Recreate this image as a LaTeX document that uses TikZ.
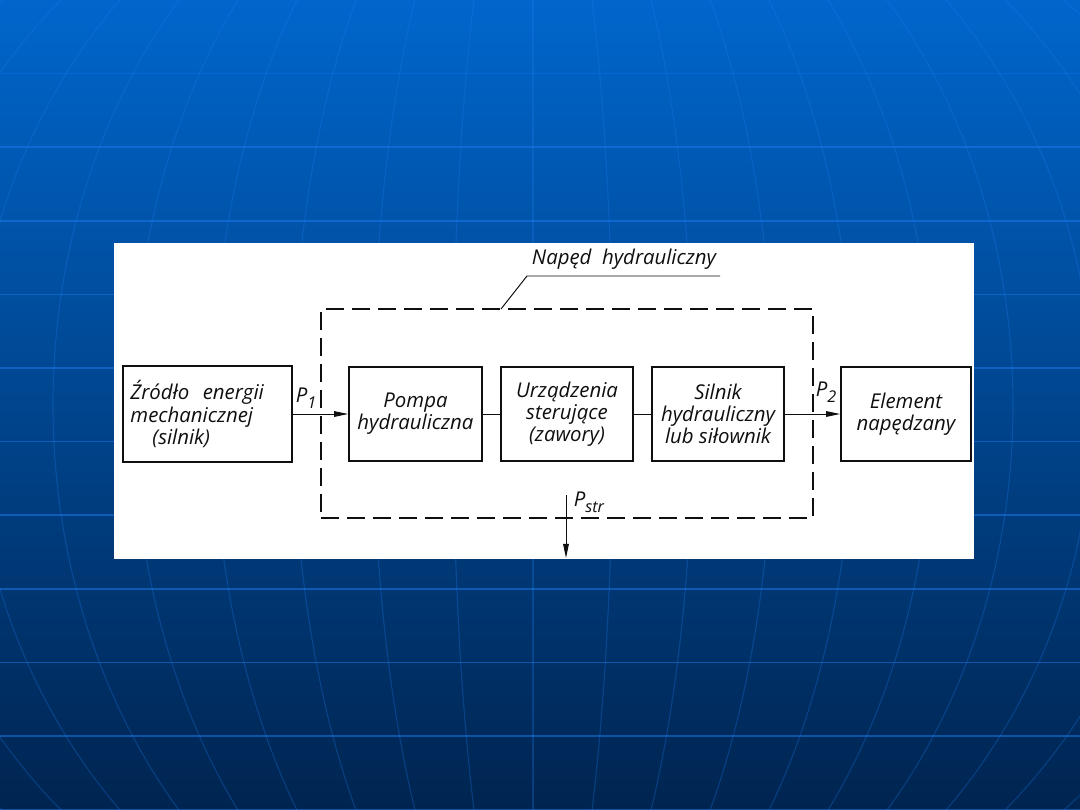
\documentclass[tikz,border=0pt]{standalone}
\usepackage{fontspec}
\setmainfont{Open Sans}
\usepackage{tikz}
\usetikzlibrary{arrows.meta, calc}
\definecolor{bgtop}{RGB}{0, 102, 204}
\definecolor{bgmid}{RGB}{0, 78, 158}
\definecolor{bgbottom}{RGB}{0, 36, 80}
\definecolor{gridline}{RGB}{30, 125, 240}
\definecolor{inkblack}{RGB}{15, 15, 15}
\newcommand{\lowsub}[1]{\raisebox{-0.55ex}{\fontsize{11.5}{12}\selectfont #1}}

\tikzset{
  blok/.style={draw=inkblack, line width=1.3pt, align=center, inner sep=1pt, text=inkblack,
    minimum width=3.3cm, minimum height=2.35cm, font=\itshape\fontsize{14.5}{15.8}\selectfont},
  conn/.style={draw=inkblack, line width=0.7pt},
  flowtip/.style={-{Triangle[length=10pt,width=4pt]}},
  plabel/.style={font=\itshape\fontsize{14.5}{16}\selectfont, text=inkblack, inner sep=0pt}
}

\begin{document}
\begin{tikzpicture}[x=0.025cm, y=-0.025cm]
                \useasboundingbox (0,0) rectangle (1080,810);
                % Background with globe grid
                \begin{scope}
                  \clip (0,0) rectangle (1080,810);
                  \shade[top color=bgtop, middle color=bgmid, bottom color=bgbottom] (0,0) rectangle (1080,810);
                  \draw[gridline, opacity=0.3, line width=1pt] (0,73.6) -- (1080,73.6);
                  \foreach \yy in {147.2,220.8,...,810}
                    \draw[gridline, opacity=0.5, line width=1.2pt] (0,\yy) -- (1080,\yy);
                  \foreach \i in {-9,...,9}
                    \draw[gridline, opacity=0.28, line width=0.8pt] plot[variable=\t, domain=-10:820, samples=40, smooth]
                      ({533+\i*80*sqrt(1-((\t-405)/600)*((\t-405)/600))}, {\t});
                \end{scope}
                \fill[white] (114,243) rectangle (974,559);

                % Dashed frame
                \node[draw=inkblack, line width=0.9pt, dash pattern=on 12.5pt off 6pt, inner sep=0pt,
                  minimum width=12.3cm, minimum height=5.225cm] (naped) at (567,413.5) {};

                % Blocks
                \node[blok, align=left, text width=3.85cm, minimum width=4.22cm, minimum height=2.4cm] (zrodlo) at (207.5,414)
                  {Źródło~ energii\\mechanicznej\\\hspace*{0.55cm}(silnik)};
                \node[blok, minimum width=3.32cm] (pompa) at (415.5,414) {Pompa\\hydrauliczna};
                \node[blok] (zawory) at (567,414) {Urządzenia\\sterujące\\(zawory)};
                \node[blok] (silnik) at (718,414) {Silnik\\hydrauliczny\\lub siłownik};
                \node[blok, minimum width=3.25cm] (element) at (906,414) {Element\\napędzany};

                % Connectors
                \draw[conn, flowtip] (zrodlo.east) -- (pompa.west);
                \draw[conn] (pompa.east) -- (zawory.west);
                \draw[conn] (zawory.east) -- (silnik.west);
                \draw[conn, flowtip] (silnik.east) -- (element.west);

                % Power labels
                \node[plabel] (p1) at (306,398) {P\lowsub{1}};
                \node[plabel] (p2) at (826,392) {P\lowsub{2}};
                \node[plabel] (pstr) at (589,502) {P\lowsub{str}};
                \coordinate (strtop) at (566,495);
                \coordinate (strend) at (566,558);
                \draw[conn, flowtip] (strtop) -- (strend);

                % Title with leader
                \node[plabel] (tytul) at (624,259) {Napęd~ hydrauliczny};
                \coordinate (kreskaA) at (527,276);
                \coordinate (kreskaB) at (720,276);
                \coordinate (odnosnik) at (501,309);
                \draw[conn] (kreskaB) -- (kreskaA) -- (odnosnik);
            \end{tikzpicture}
\end{document}
